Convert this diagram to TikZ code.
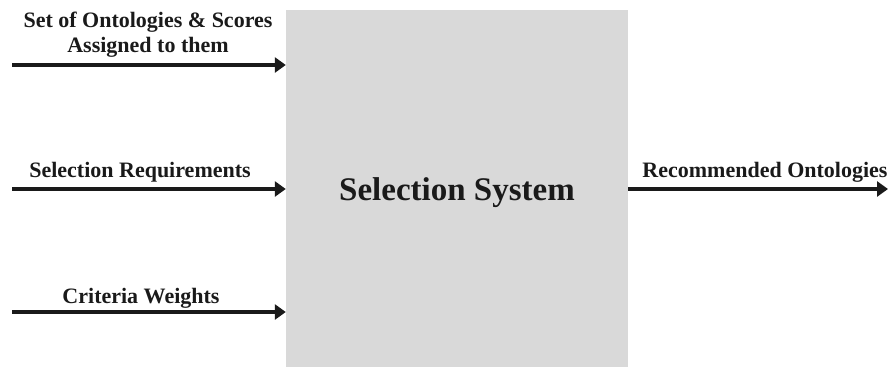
\documentclass[tikz,border=0pt]{standalone}
\usepackage{fontspec}
\setmainfont{Liberation Serif}
\usetikzlibrary{arrows.meta}
\definecolor{boxgray}{HTML}{D9D9D9}
\definecolor{ink}{HTML}{1A1A1A}
\begin{document}
\begin{tikzpicture}[x=1pt,y=-1pt,
  arr/.style={draw=ink,line width=3.5pt,-{Triangle[length=11pt,width=15pt]}},
  lbl/.style={text=ink,font=\bfseries\fontsize{22}{25}\selectfont,align=center,inner sep=0pt},
  sysbox/.style={fill=boxgray,draw=none,minimum width=342pt,minimum height=357pt,inner sep=0pt,
    font=\bfseries\fontsize{33}{38}\selectfont,text=ink}]
\useasboundingbox (0,0) rectangle (890,367);
\node[sysbox] (sys) at (457,188) {\raisebox{-5pt}[\height][\depth]{Selection System}};
\coordinate (s1) at (12,65);
\coordinate (s2) at (12,189);
\coordinate (s3) at (12,312);
\coordinate (t4) at (888,189);
\draw[arr] (s1) -- (sys.west |- s1);
\draw[arr] (s2) -- (sys.west |- s2);
\draw[arr] (s3) -- (sys.west |- s3);
\draw[arr] (sys.east |- t4) -- (t4);
\node[lbl] (l1) at (148,35) {Set of Ontologies \& Scores\\Assigned to them};
\node[lbl] (l2) at (140,172) {Selection Requirements};
\node[lbl] (l3) at (141,298) {Criteria Weights};
\node[lbl] (l4) at (765,172) {Recommended Ontologies};
\end{tikzpicture}
\end{document}
